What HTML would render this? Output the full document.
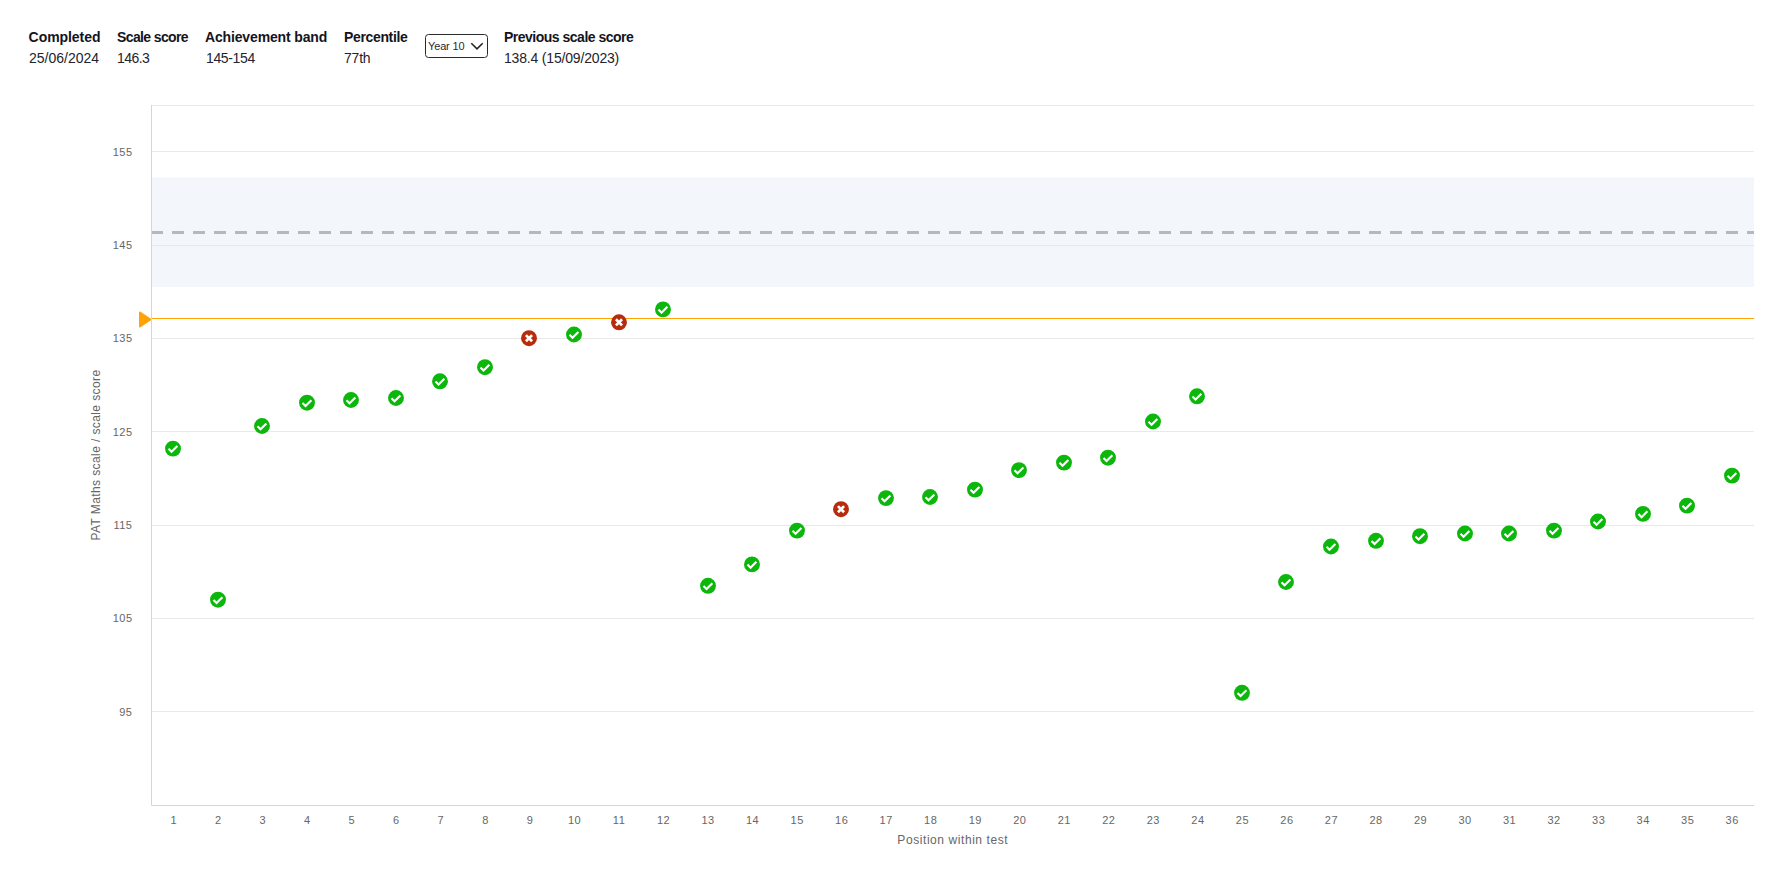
<!DOCTYPE html>
<html><head><meta charset="utf-8"><title>Report</title>
<style>
html,body{margin:0;padding:0;background:#fff;}
body{width:1783px;height:879px;position:relative;overflow:hidden;font-family:"Liberation Sans",sans-serif;}
.h{position:absolute;white-space:nowrap;font-size:14px;line-height:16px;}
.b{font-weight:bold;color:#14141c;top:29px;}
.v{color:#23232e;top:50px;}
.sel{position:absolute;left:425px;top:34px;width:61px;height:22px;border:1px solid #2a2a2a;border-radius:3.5px;background:#fff;}
.sel span{position:absolute;left:2px;top:5px;font-size:11px;line-height:12px;color:#2a2a34;letter-spacing:-0.15px;white-space:nowrap;}
svg{position:absolute;left:0;top:0;}
svg text{font-family:"Liberation Sans",sans-serif;fill:#666;}
</style></head><body>
<div class="h b" style="left:28.6px;letter-spacing:-0.06px">Completed</div>
<div class="h v" style="left:29px">25/06/2024</div>
<div class="h b" style="left:117px;letter-spacing:-0.62px">Scale score</div>
<div class="h v" style="left:117px;letter-spacing:-0.55px">146.3</div>
<div class="h b" style="left:205px;letter-spacing:-0.15px">Achievement band</div>
<div class="h v" style="left:206px;letter-spacing:-0.35px">145-154</div>
<div class="h b" style="left:344px;letter-spacing:-0.35px">Percentile</div>
<div class="h v" style="left:344px;letter-spacing:-0.2px">77th</div>
<div class="sel"><span>Year 10</span><svg width="16" height="10" style="left:43px;top:6px" viewBox="0 0 16 10"><path d="M2.3 2.2 L8 7.9 L13.7 2.2" fill="none" stroke="#222" stroke-width="1.5"/></svg></div>
<div class="h b" style="left:504px;letter-spacing:-0.5px">Previous scale score</div>
<div class="h v" style="left:504px;letter-spacing:-0.18px">138.4 (15/09/2023)</div>
<svg width="1783" height="879" viewBox="0 0 1783 879">

<rect x="152" y="177.5" width="1602" height="109.5" fill="#f3f6fa"/>
<path d="M151 105.5H1754" stroke="#e9e9e9" stroke-width="1" fill="none"/>
<path d="M152 151.5H1754" stroke="#e9e9e9" stroke-width="1" fill="none"/>
<path d="M152 245.5H1754" stroke="#e9e9e9" stroke-width="1" fill="none"/>
<path d="M152 338.5H1754" stroke="#e9e9e9" stroke-width="1" fill="none"/>
<path d="M152 431.5H1754" stroke="#e9e9e9" stroke-width="1" fill="none"/>
<path d="M152 525.5H1754" stroke="#e9e9e9" stroke-width="1" fill="none"/>
<path d="M152 618.5H1754" stroke="#e9e9e9" stroke-width="1" fill="none"/>
<path d="M152 711.5H1754" stroke="#e9e9e9" stroke-width="1" fill="none"/>
<path d="M151 232.5H1754" stroke="#b5b8bc" stroke-width="3" stroke-dasharray="12 9" fill="none"/>
<path d="M152 318.5H1754" stroke="#ffa300" stroke-width="1" fill="none"/>
<path d="M140 312.6L150.4 319.5L140 326.4Z" fill="#ffa300" stroke="#ffa300" stroke-width="2" stroke-linejoin="round"/>
<path d="M151.5 105V805.5H1754" stroke="#ccd6eb" stroke-width="1" fill="none"/>
<text x="132.5" y="156" text-anchor="end" font-size="11" letter-spacing="0.5">155</text>
<text x="132.5" y="249" text-anchor="end" font-size="11" letter-spacing="0.5">145</text>
<text x="132.5" y="342" text-anchor="end" font-size="11" letter-spacing="0.5">135</text>
<text x="132.5" y="436" text-anchor="end" font-size="11" letter-spacing="0.5">125</text>
<text x="132.5" y="529" text-anchor="end" font-size="11" letter-spacing="0.5">115</text>
<text x="132.5" y="622" text-anchor="end" font-size="11" letter-spacing="0.5">105</text>
<text x="132.5" y="716" text-anchor="end" font-size="11" letter-spacing="0.5">95</text>
<text x="173.76" y="824" text-anchor="middle" font-size="11" letter-spacing="0.5">1</text>
<text x="218.29" y="824" text-anchor="middle" font-size="11" letter-spacing="0.5">2</text>
<text x="262.82" y="824" text-anchor="middle" font-size="11" letter-spacing="0.5">3</text>
<text x="307.35" y="824" text-anchor="middle" font-size="11" letter-spacing="0.5">4</text>
<text x="351.88" y="824" text-anchor="middle" font-size="11" letter-spacing="0.5">5</text>
<text x="396.40" y="824" text-anchor="middle" font-size="11" letter-spacing="0.5">6</text>
<text x="440.93" y="824" text-anchor="middle" font-size="11" letter-spacing="0.5">7</text>
<text x="485.46" y="824" text-anchor="middle" font-size="11" letter-spacing="0.5">8</text>
<text x="529.99" y="824" text-anchor="middle" font-size="11" letter-spacing="0.5">9</text>
<text x="574.51" y="824" text-anchor="middle" font-size="11" letter-spacing="0.5">10</text>
<text x="619.04" y="824" text-anchor="middle" font-size="11" letter-spacing="0.5">11</text>
<text x="663.57" y="824" text-anchor="middle" font-size="11" letter-spacing="0.5">12</text>
<text x="708.10" y="824" text-anchor="middle" font-size="11" letter-spacing="0.5">13</text>
<text x="752.62" y="824" text-anchor="middle" font-size="11" letter-spacing="0.5">14</text>
<text x="797.15" y="824" text-anchor="middle" font-size="11" letter-spacing="0.5">15</text>
<text x="841.68" y="824" text-anchor="middle" font-size="11" letter-spacing="0.5">16</text>
<text x="886.21" y="824" text-anchor="middle" font-size="11" letter-spacing="0.5">17</text>
<text x="930.74" y="824" text-anchor="middle" font-size="11" letter-spacing="0.5">18</text>
<text x="975.26" y="824" text-anchor="middle" font-size="11" letter-spacing="0.5">19</text>
<text x="1019.79" y="824" text-anchor="middle" font-size="11" letter-spacing="0.5">20</text>
<text x="1064.32" y="824" text-anchor="middle" font-size="11" letter-spacing="0.5">21</text>
<text x="1108.85" y="824" text-anchor="middle" font-size="11" letter-spacing="0.5">22</text>
<text x="1153.38" y="824" text-anchor="middle" font-size="11" letter-spacing="0.5">23</text>
<text x="1197.90" y="824" text-anchor="middle" font-size="11" letter-spacing="0.5">24</text>
<text x="1242.43" y="824" text-anchor="middle" font-size="11" letter-spacing="0.5">25</text>
<text x="1286.96" y="824" text-anchor="middle" font-size="11" letter-spacing="0.5">26</text>
<text x="1331.49" y="824" text-anchor="middle" font-size="11" letter-spacing="0.5">27</text>
<text x="1376.01" y="824" text-anchor="middle" font-size="11" letter-spacing="0.5">28</text>
<text x="1420.54" y="824" text-anchor="middle" font-size="11" letter-spacing="0.5">29</text>
<text x="1465.07" y="824" text-anchor="middle" font-size="11" letter-spacing="0.5">30</text>
<text x="1509.60" y="824" text-anchor="middle" font-size="11" letter-spacing="0.5">31</text>
<text x="1554.12" y="824" text-anchor="middle" font-size="11" letter-spacing="0.5">32</text>
<text x="1598.65" y="824" text-anchor="middle" font-size="11" letter-spacing="0.5">33</text>
<text x="1643.18" y="824" text-anchor="middle" font-size="11" letter-spacing="0.5">34</text>
<text x="1687.71" y="824" text-anchor="middle" font-size="11" letter-spacing="0.5">35</text>
<text x="1732.24" y="824" text-anchor="middle" font-size="11" letter-spacing="0.5">36</text>
<text x="952.75" y="844" text-anchor="middle" font-size="12" letter-spacing="0.57">Position within test</text>
<text transform="translate(100,455) rotate(-90)" text-anchor="middle" font-size="12" letter-spacing="0.4">PAT Maths scale / scale score</text>
<defs><g id="g"><circle r="7.95" fill="#0cb70b"/><path d="M-4.5 0.2L-1.46 3.24L4.4 -2.56" fill="none" stroke="#fff" stroke-width="2.15"/></g>
<g id="r"><circle r="7.95" fill="#b72c0d"/><path d="M-3.05 -3.05L3.05 3.05M3.05 -3.05L-3.05 3.05" fill="none" stroke="#fff" stroke-width="2.7"/></g></defs>
<use href="#g" x="173" y="448.6"/>
<use href="#g" x="218" y="599.7"/>
<use href="#g" x="262" y="426.0"/>
<use href="#g" x="307" y="402.7"/>
<use href="#g" x="351" y="400.0"/>
<use href="#g" x="396" y="398.0"/>
<use href="#g" x="440" y="381.3"/>
<use href="#g" x="485" y="367.2"/>
<use href="#r" x="529" y="338.2"/>
<use href="#g" x="574" y="334.5"/>
<use href="#r" x="619" y="322.3"/>
<use href="#g" x="663" y="309.4"/>
<use href="#g" x="708" y="585.8"/>
<use href="#g" x="752" y="564.4"/>
<use href="#g" x="797" y="530.6"/>
<use href="#r" x="841" y="509.2"/>
<use href="#g" x="886" y="498.1"/>
<use href="#g" x="930" y="497.0"/>
<use href="#g" x="975" y="489.6"/>
<use href="#g" x="1019" y="470.1"/>
<use href="#g" x="1064" y="462.6"/>
<use href="#g" x="1108" y="457.7"/>
<use href="#g" x="1153" y="421.5"/>
<use href="#g" x="1197" y="396.3"/>
<use href="#g" x="1242" y="692.8"/>
<use href="#g" x="1286" y="582.0"/>
<use href="#g" x="1331" y="546.5"/>
<use href="#g" x="1376" y="540.8"/>
<use href="#g" x="1420" y="536.2"/>
<use href="#g" x="1465" y="533.5"/>
<use href="#g" x="1509" y="533.5"/>
<use href="#g" x="1554" y="530.6"/>
<use href="#g" x="1598" y="521.5"/>
<use href="#g" x="1643" y="513.9"/>
<use href="#g" x="1687" y="505.6"/>
<use href="#g" x="1732" y="475.6"/>
</svg></body></html>
